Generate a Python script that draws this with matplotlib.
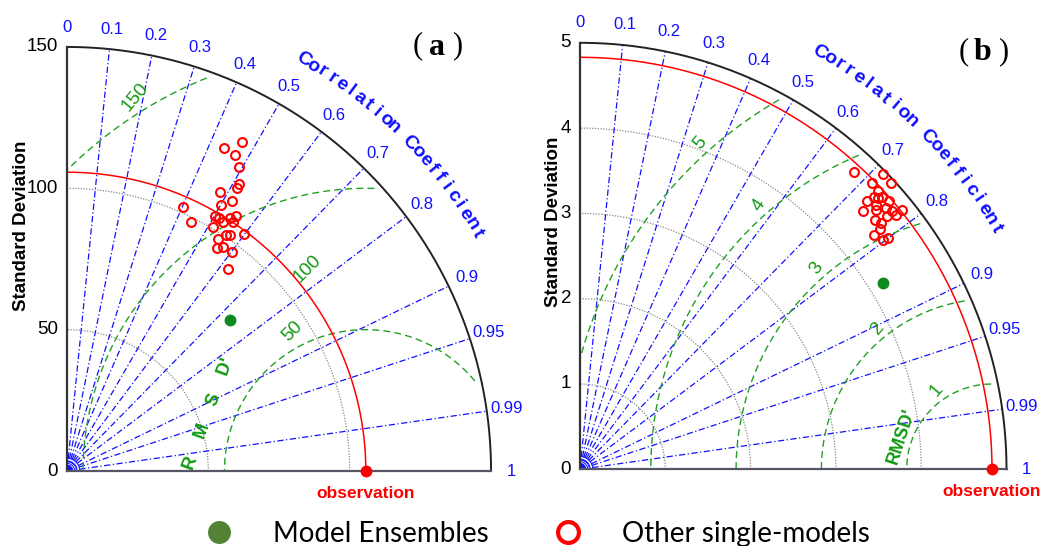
import numpy as np
import matplotlib
matplotlib.use("Agg")
import matplotlib.pyplot as plt
from matplotlib.lines import Line2D

# ---------------- data ----------------
# panel (a)
obs_a = 105.7
ens_std_a = [78.6]
ens_corr_a = [0.734]
std_a = [131.8, 127.1, 126.6, 123.5, 118.4, 116.7, 112.6, 112.1, 108.7, 101.8, 98.4,
         104.3, 104.5, 106.7, 108.0, 104.0, 105.9, 100.6, 104.6, 98.1, 100.6, 101.6,
         96.6, 95.0, 97.0, 91.4]
corr_a = [0.470, 0.437, 0.469, 0.493, 0.515, 0.514, 0.481, 0.521, 0.501, 0.402, 0.446,
          0.502, 0.516, 0.542, 0.552, 0.531, 0.555, 0.512, 0.597, 0.546, 0.558, 0.569,
          0.573, 0.558, 0.603, 0.625]
std_ticks_a = [0, 50, 100, 150]
std_grid_a = [50, 100]
rms_levels_a = [50, 100, 150]

# panel (b)
obs_b = 4.83
ens_std_b = [4.175]
ens_corr_b = [0.852]
std_b = [4.742, 4.960, 4.954, 4.792, 4.778, 4.603, 4.700, 4.767, 4.801, 4.489, 4.617,
         4.713, 4.749, 4.844, 4.755, 4.527, 4.664, 4.559, 4.502, 4.408, 4.452, 4.513,
         4.722, 4.652]
corr_b = [0.677, 0.715, 0.735, 0.714, 0.730, 0.730, 0.733, 0.743, 0.755, 0.738, 0.752,
          0.761, 0.771, 0.779, 0.779, 0.763, 0.771, 0.773, 0.780, 0.783, 0.797, 0.799,
          0.740, 0.746]
std_ticks_b = [0, 1, 2, 3, 4, 5]
std_grid_b = [1, 2, 3, 4]
rms_levels_b = [1, 2, 3, 4, 5]

corr_ticks = [0, 0.1, 0.2, 0.3, 0.4, 0.5, 0.6, 0.7, 0.8, 0.9, 0.95, 0.99, 1]
corr_tick_labels = ["0", "0.1", "0.2", "0.3", "0.4", "0.5", "0.6", "0.7", "0.8", "0.9",
                    "0.95", "0.99", "1"]
corr_lines = [0.1, 0.2, 0.3, 0.4, 0.5, 0.6, 0.7, 0.8, 0.9, 0.95, 0.99]
legend_labels = ["Model Ensembles", "Other single-models"]

# ---------------- style ----------------
W, H = 1043, 546
BLUE = "#1010ff"
GREEN = "#22a022"
GREEN_TXT = "#119911"
RED = "#ff0000"
SANS = "Liberation Sans"
SERIF = "Liberation Serif"

fig = plt.figure(figsize=(W / 100, H / 100), dpi=100)


def make_axes(px0, px1, ox, oy, scale):
    ax = fig.add_axes([px0 / W, 0, (px1 - px0) / W, 1])
    ax.set_xlim((px0 - ox) / scale, (px1 - ox) / scale)
    ax.set_ylim((oy - H) / scale, oy / scale)
    ax.axis("off")
    return ax


def taylor(ax, scale, rmax, obs, std_ticks, std_grid, rms_levels, rms_lab, std, corr,
           ens_std, ens_corr, letter, panel_xy, sd_xy, rmsd_txt, rmsd_xy, rmsd_rot,
           cc_r, fmt):
    px = 1.0 / scale  # one pixel in data units
    th = np.linspace(0, np.pi / 2, 400)
    # std grid circles
    for r in std_grid:
        ax.plot(r * np.cos(th), r * np.sin(th), ls=(0, (1, 1.2)), color="#8a8a8a", lw=0.9, zorder=1)
    # correlation lines
    for c in corr_lines:
        a = np.arccos(c)
        ax.plot([0, rmax * np.cos(a)], [0, rmax * np.sin(a)], color=BLUE, lw=0.9,
                ls=(0, (5, 2, 1, 2)), zorder=2)
    # small arcs at origin
    for f in np.linspace(0.006, 0.03, 5):
        ax.plot(f * rmax * np.cos(th), f * rmax * np.sin(th), color=BLUE, lw=0.7, zorder=2)
    # RMSD contours
    phi = np.linspace(0, np.pi, 1500)
    for R in rms_levels:
        x = obs + R * np.cos(phi)
        y = R * np.sin(phi)
        m = (x >= 0) & (np.hypot(x, y) <= 0.985 * rmax)
        x = np.where(m, x, np.nan)
        y = np.where(m, y, np.nan)
        ax.plot(x, y, color=GREEN, lw=1.0, ls=(0, (5, 3)), zorder=3)
    # RMSD labels
    for R, (d, ang, rot) in zip(rms_levels, rms_lab):
        a = np.deg2rad(ang)
        ax.text(obs + d * np.cos(a), d * np.sin(a), fmt(R), color=GREEN_TXT, fontsize=13.5,
                family=SANS, rotation=rot, ha="center", va="center", rotation_mode="anchor")
    # obs circle
    ax.plot(obs * np.cos(th), obs * np.sin(th), color=RED, lw=1.1, zorder=4)
    # outer arc and axes
    ax.plot(rmax * np.cos(th), rmax * np.sin(th), color="#222222", lw=1.4, zorder=5)
    ax.plot([0, 0], [0, rmax], color="#333333", lw=1.6, zorder=5)
    ax.plot([0, rmax], [0, 0], color="#555566", lw=1.6, zorder=5)
    # std tick labels
    for t in std_ticks:
        ax.text(-9 * px, t, fmt(t), ha="right", va="center", fontsize=13.5, family=SANS)
    # correlation tick labels
    for c, lab in zip(corr_ticks, corr_tick_labels):
        a = np.arccos(c)
        r = 1.047 * rmax
        ax.text(r * np.cos(a), r * np.sin(a), lab, color=BLUE, fontsize=12, family=SANS,
                ha="center", va="center")
    # curved "Correlation Coefficient"
    txt = "Correlation Coefficient"
    for ch, a in zip(txt, np.linspace(60.1, 30.1, len(txt))):
        t = np.deg2rad(a)
        ax.text(cc_r * rmax * np.cos(t), cc_r * rmax * np.sin(t), ch, color=BLUE,
                fontsize=14, fontweight="bold", family=SANS, rotation=a - 90,
                ha="center", va="center", rotation_mode="anchor")
    # points
    a = np.arccos(np.array(corr))
    s = np.array(std)
    ax.plot(s * np.cos(a), s * np.sin(a), "o", mfc="none", mec=RED, ms=6.4, mew=1.5,
            zorder=7, ls="none")
    a = np.arccos(np.array(ens_corr))
    s = np.array(ens_std)
    ax.plot(s * np.cos(a), s * np.sin(a), "o", color="#0f8a1f", ms=7.5, zorder=7, ls="none")
    ax.plot([obs], [0], "o", color=RED, ms=7.5, zorder=8, clip_on=False)
    ax.text(obs, -22 * px, "observation", color=RED, fontsize=12.5, fontweight="bold",
            family=SANS, ha="center", va="center")
    # labels
    ax.text(sd_xy[0] * px, sd_xy[1] * px, "Standard Deviation", rotation=90, fontsize=13.5,
            fontweight="bold", family=SANS, ha="center", va="center")
    cx, cy = panel_xy[0] * px, panel_xy[1] * px
    ax.text(cx - 19 * px, cy + 1 * px, "(", fontsize=22, family=SERIF, ha="center", va="center")
    ax.text(cx, cy, letter, fontsize=23, fontweight="bold", family=SERIF, ha="center", va="center")
    ax.text(cx + 20 * px, cy + 1 * px, ")", fontsize=22, family=SERIF, ha="center", va="center")
    ax.text(rmsd_xy[0] * px, rmsd_xy[1] * px, rmsd_txt, rotation=rmsd_rot, color=GREEN_TXT,
            fontsize=13, fontweight="bold", family=SANS, ha="center", va="center")


# panel (a): origin at pixel (67, 471), 2.827 px per unit
ax_a = make_axes(0, 520, 67, 471, 2.827)
taylor(ax_a, 2.827, 150, obs_a, std_ticks_a, std_grid_a, rms_levels_a,
       [(55.6, 117.7, 45), (74.3, 106, 45), (155.4, 121.7, 50)],
       std_a, corr_a, ens_std_a, ens_corr_a, "a", (437 - 67, 471 - 47),
       (21 - 67, 471 - 226), "R    M    S    D'", (209 - 67, 471 - 414), 70, 1.118,
       lambda v: f"{v:g}")

# panel (b): origin at pixel (580, 469.3), 85.3 px per unit
ax_b = make_axes(520, 1043, 580, 469.3, 85.3)
taylor(ax_b, 85.3, 5, obs_b, std_ticks_b, std_grid_b, rms_levels_b,
       [(1.13, 125, 50), (2.13, 129, 50), (3.13, 131, 55), (4.13, 131.4, 55), (5.13, 131.8, 50)],
       std_b, corr_b, ens_std_b, ens_corr_b, "b", (983 - 580, 469.3 - 53),
       (553 - 580, 469.3 - 222), "RMSD'", (901.7 - 580, 469.3 - 436.7), 72, 1.127,
       lambda v: f"{v:g}")

# legend
handles = [
    Line2D([], [], ls="none", marker="o", color="#548235", ms=15.5),
    Line2D([], [], ls="none", marker="o", mfc="none", mec=RED, ms=15, mew=3),
]
fig.legend(handles, legend_labels, ncol=2, frameon=False,
           loc="center", bbox_to_anchor=(0.5155, 0.022), prop={"family": "Lato", "size": 20},
           handlelength=1.0, handletextpad=1.45, columnspacing=2.35, borderpad=0)

fig.savefig("out.png", dpi=100)
